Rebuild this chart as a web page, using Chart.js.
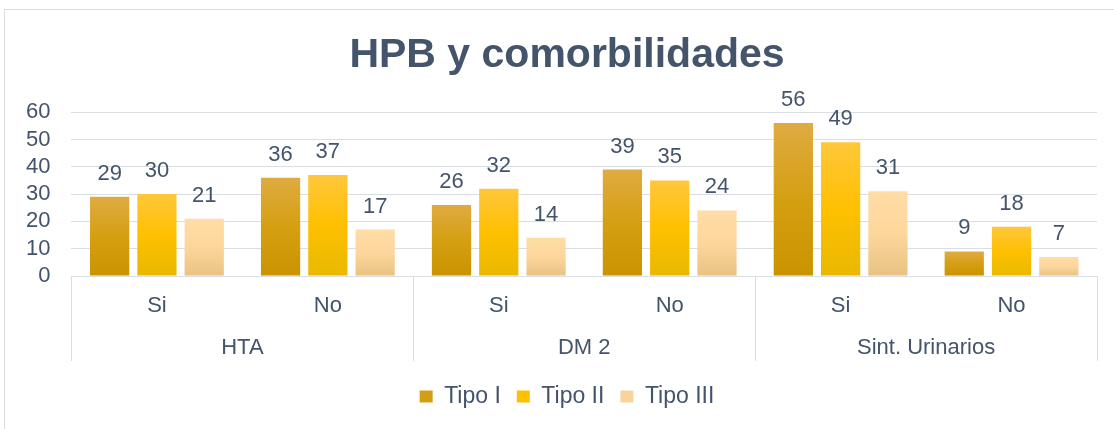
<!DOCTYPE html>
<html>
<head>
<meta charset="utf-8">
<script src="https://cdn.jsdelivr.net/npm/chart.js@4/dist/chart.umd.min.js"></script>
<style>
  html, body { margin: 0; padding: 0; background: #fff; }
  .frame { position: absolute; left: 4px; top: 9px; width: 1130px; height: 440px; border: 1px solid #DADDE2; }
  .wrap { position: absolute; left: 0; top: 0; width: 1114px; height: 429px; }
</style>
</head>
<body>
<div class="frame"></div>
<div class="wrap"><canvas id="chart" width="1114" height="429"></canvas></div>
<script>
const groups = ['HTA', 'DM 2', 'Sint. Urinarios']
const answers = ['Si', 'No', 'Si', 'No', 'Si', 'No']
const tipo1 = [29, 36, 26, 39, 56, 9]
const tipo2 = [30, 37, 32, 35, 49, 18]
const tipo3 = [21, 17, 14, 24, 31, 7]
const yTicks = [0, 10, 20, 30, 40, 50, 60]

const textColor = '#44546A'
const lineColor = '#DADDE2'
const font = '"Liberation Sans", Arial, sans-serif'

// gradient stops per series (top -> bottom)
const stops = [
  ['#DFAB41', '#D59F12', '#C99300'],
  ['#FFC73C', '#FFC000', '#E8B900'],
  ['#FFDDA6', '#FDD69C', '#E8C283']
]
const legendColors = ['#D39D14', '#FFC000', '#F8D49C']

const barFill = (i) => (c) => {
  const chart = c.chart
  if (c.type !== 'data' || !chart.chartArea) return legendColors[i]
  const y = chart.scales.y
  const top = y.getPixelForValue(c.parsed.y)
  const bottom = y.getPixelForValue(0)
  const g = chart.ctx.createLinearGradient(0, top, 0, bottom)
  g.addColorStop(0, stops[i][0])
  g.addColorStop(0.5, stops[i][1])
  g.addColorStop(1, stops[i][2])
  return g
}

// valeurs au-dessus des barres
const valueLabels = {
  id: 'valueLabels',
  afterDatasetsDraw(chart) {
    const ctx = chart.ctx
    ctx.save()
    ctx.font = '22px ' + font
    ctx.fillStyle = textColor
    ctx.textAlign = 'center'
    ctx.textBaseline = 'alphabetic'
    chart.data.datasets.forEach((ds, i) => {
      chart.getDatasetMeta(i).data.forEach((bar, j) => {
        ctx.fillText(ds.data[j], bar.x, bar.y - 17)
      })
    })
    ctx.restore()
  }
}

// lignes de séparation des groupes sous l'axe
const groupLines = {
  id: 'groupLines',
  afterDraw(chart) {
    const x = chart.scales.x
    const x2 = chart.scales.x2
    const ctx = chart.ctx
    const xs = [x.left]
    for (let k = 1; k < groups.length; k++) {
      const a = x.getPixelForValue(k * 2 - 1)
      const b = x.getPixelForValue(k * 2)
      xs.push((a + b) / 2)
    }
    xs.push(x.right)
    ctx.save()
    ctx.strokeStyle = lineColor
    ctx.lineWidth = 1
    ctx.beginPath()
    xs.forEach(px => {
      const p = Math.round(px) + 0.5
      ctx.moveTo(p, chart.chartArea.bottom)
      ctx.lineTo(p, x2.top + 43)
    })
    ctx.stroke()
    ctx.restore()
  }
}

// titre et légende centrés un peu plus à droite, comme l'original
const shiftBlocks = {
  id: 'shiftBlocks',
  afterLayout(chart) {
    if (chart.titleBlock) chart.titleBlock.left += 32
    if (chart.legend) chart.legend.left += 32
  }
}

const datasets = [
  { label: 'Tipo I', data: tipo1, backgroundColor: barFill(0) },
  { label: 'Tipo II', data: tipo2, backgroundColor: barFill(1) },
  { label: 'Tipo III', data: tipo3, backgroundColor: barFill(2) }
]

new Chart(document.getElementById('chart'), {
  type: 'bar',
  data: { labels: answers, datasets },
  plugins: [valueLabels, groupLines, shiftBlocks],
  options: {
    responsive: false,
    animation: false,
    events: [],
    layout: { padding: { left: 5, right: 17, top: 0, bottom: 11 } },
    datasets: { bar: { categoryPercentage: 0.83, barPercentage: 0.83 } },
    plugins: {
      tooltip: { enabled: false },
      title: {
        display: true,
        text: 'HPB y comorbilidades',
        color: textColor,
        font: { family: font, size: 41, weight: 'bold' },
        padding: { top: 31, bottom: 32 }
      },
      legend: {
        position: 'bottom',
        labels: {
          color: textColor,
          font: { family: font, size: 23 },
          boxWidth: 13,
          boxHeight: 12,
          padding: 16,
          generateLabels: (chart) => chart.data.datasets.map((ds, i) => ({
            text: ds.label,
            fillStyle: legendColors[i],
            strokeStyle: legendColors[i],
            lineWidth: 0,
            fontColor: textColor,
            datasetIndex: i
          }))
        }
      }
    },
    scales: {
      y: {
        min: 0,
        max: 60,
        afterBuildTicks: (s) => { s.ticks = yTicks.map(v => ({ value: v })) },
        grid: { color: lineColor, drawTicks: false },
        border: { display: false },
        ticks: { color: textColor, padding: 21, autoSkip: false, font: { family: font, size: 22 } }
      },
      x: {
        grid: { display: false, drawTicks: false },
        border: { display: false },
        afterFit: (s) => { s.height = 42 },
        ticks: { color: textColor, padding: 17, font: { family: font, size: 22 } }
      },
      x2: {
        type: 'category',
        position: 'bottom',
        labels: groups,
        offset: true,
        grid: { display: false, drawTicks: false },
        border: { display: false },
        afterFit: (s) => { s.height = 51 },
        ticks: { color: textColor, padding: 17, font: { family: font, size: 22 } }
      }
    }
  }
})
</script>
</body>
</html>
